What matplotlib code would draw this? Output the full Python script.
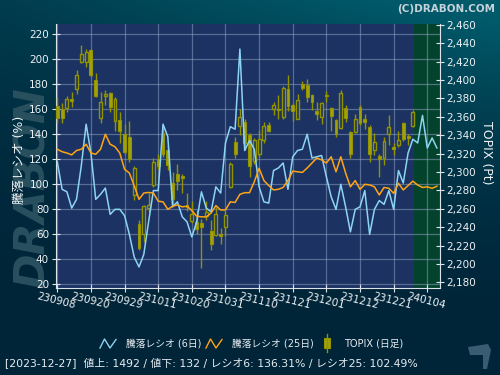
import numpy as np
import matplotlib
matplotlib.use("Agg")
import matplotlib.pyplot as plt
from matplotlib.ticker import FuncFormatter
from matplotlib.patches import Polygon, Rectangle

plt.rcParams['font.family'] = ['DejaVu Sans', 'Noto Sans CJK JP']

# ---------------- data ----------------
tick_labels = ['230908', '230920', '230929', '231011', '231020', '231031',
               '231110', '231121', '231201', '231212', '231221', '240104']
tick_step = 7  # trading days between labelled ticks

topix_open = [2372, 2368, 2370, 2379, 2390, 2419, 2419, 2432, 2400, 2359,
              2383, 2386, 2355, 2356, 2341, 2338, 2275, 2243, 2233, 2261,
              2286, 2314, 2342, 2324, 2288, 2298, 2296, 2264, 2247, 2246,
              2244, 2252, 2236, 2231, 2233, 2240, 2284, 2333, 2350, 2354,
              2340, 2312, 2320, 2335, 2351, 2368, 2368, 2360, 2390, 2373,
              2358, 2396, 2395, 2384, 2366, 2360, 2384, 2370, 2356, 2348,
              2369, 2343, 2343, 2371, 2357, 2349, 2324, 2317, 2315, 2341,
              2327, 2329, 2353, 2339, 2350]
topix_high = [2381, 2375, 2382, 2387, 2411, 2438, 2434, 2434, 2407, 2387,
              2389, 2387, 2381, 2365, 2352, 2355, 2306, 2248, 2264, 2277,
              2315, 2320, 2351, 2329, 2300, 2309, 2298, 2277, 2268, 2259,
              2249, 2268, 2248, 2262, 2239, 2257, 2311, 2338, 2368, 2358,
              2342, 2337, 2346, 2354, 2354, 2376, 2384, 2393, 2405, 2375,
              2385, 2399, 2401, 2385, 2376, 2376, 2388, 2371, 2358, 2389,
              2373, 2345, 2363, 2373, 2363, 2351, 2342, 2320, 2338, 2362,
              2331, 2345, 2354, 2341, 2367]
topix_low = [2353, 2353, 2365, 2371, 2385, 2418, 2414, 2403, 2381, 2353,
             2373, 2365, 2344, 2331, 2320, 2311, 2269, 2215, 2224, 2256,
             2284, 2303, 2316, 2302, 2264, 2280, 2277, 2257, 2244, 2233,
             2195, 2248, 2215, 2230, 2222, 2230, 2282, 2315, 2340, 2324,
             2295, 2309, 2316, 2331, 2343, 2362, 2358, 2358, 2366, 2355,
             2357, 2389, 2376, 2367, 2356, 2352, 2376, 2345, 2338, 2347,
             2354, 2315, 2342, 2351, 2347, 2311, 2318, 2294, 2307, 2329,
             2318, 2327, 2334, 2329, 2349]
topix_close = [2359, 2359, 2379, 2377, 2405, 2428, 2430, 2405, 2383, 2376,
               2385, 2371, 2379, 2344, 2322, 2314, 2304, 2217, 2263, 2264,
               2311, 2306, 2320, 2308, 2271, 2290, 2293, 2262, 2254, 2238,
               2240, 2256, 2222, 2254, 2230, 2253, 2309, 2320, 2360, 2331,
               2306, 2335, 2336, 2350, 2344, 2373, 2367, 2391, 2372, 2366,
               2378, 2391, 2381, 2376, 2363, 2375, 2382, 2361, 2341, 2386,
               2359, 2320, 2358, 2353, 2354, 2320, 2332, 2314, 2334, 2349,
               2325, 2335, 2336, 2337, 2365]

ratio6 = [118, 96, 94, 81, 88, 115, 148, 125, 88, 92,
          97, 76, 80, 80, 75, 60, 42, 34, 44, 70,
          95, 95, 148, 138, 82, 86, 74, 70, 58, 70,
          94, 81, 78, 98, 93, 133, 146, 144, 208, 127,
          135, 128, 98, 86, 85, 111, 113, 117, 96, 122,
          127, 128, 140, 121, 122, 123, 106, 90, 80, 100,
          82, 62, 80, 82, 95, 60, 80, 87, 84, 95,
          80, 111, 101, 125, 136, 133, 155, 129, 137, 129]
ratio25 = [128, 126, 125, 123.5, 127, 128, 132, 125, 124, 128,
           140, 132, 130, 125, 112, 109, 99, 88, 93, 93.5,
           93, 86.5, 86, 80, 82.5, 83.5, 82, 82.5, 79, 74.5,
           74, 74, 77, 83, 79.5, 79.5, 86, 85.5, 92, 93.3,
           93.3, 102, 112.8, 103, 99, 95.5, 96, 97.5, 103, 110.5,
           110, 109.5, 113, 117, 121, 119.5, 117, 122, 110, 122,
           109, 98, 103, 96, 100, 99.5, 98, 91.5, 97.5, 96.8,
           92.8, 100.8, 95.5, 99, 102.5, 99.4, 97.5, 98, 96.8, 98.5]

info_date = '2023-12-27'
info_up = 1492
info_down = 132
info_r6 = '136.31'
info_r25 = '102.49'

# ---------------- figure ----------------
fig = plt.figure(figsize=(5, 3.75), dpi=100)

# background gradient
bg = fig.add_axes([0, 0, 1, 1], zorder=-10)
yy, xx = np.mgrid[0:1:375j, 0:1:500j]
bot = np.array([0, 36, 56]) / 255
top = np.array([0, 90, 106]) / 255
f = np.clip((1 - yy) ** 2.2 * (0.45 + 0.7 * xx), 0, 1)[..., None]
img = bot + (top - bot) * f
bg.imshow(img, aspect='auto', extent=[0, 1, 0, 1], origin='upper')
bg.axis('off')

rect = [56 / 500, 1 - 288 / 375, (439.5 - 56) / 500, (288 - 24) / 375]
fg = '#dce4ea'
n_lines = len(ratio6)
n_c = len(topix_close)
xmin, xmax = -0.27, n_lines - 0.46

# base axes: background, grid, left scale
ax = fig.add_axes(rect)
ax.set_facecolor('#1b3262')
ax.set_xlim(xmin, xmax)
ax.set_ylim(17.2, 228)
ax.axvspan(n_c - 1 + 0.2, xmax, color='#03432e', zorder=0, lw=0)
ax.set_yticks(range(20, 221, 20))
tpos = np.arange(len(tick_labels)) * tick_step
ax.set_xticks(tpos)
ax.set_xticklabels(tick_labels, rotation=-14, ha='center', va='top',
                   rotation_mode='anchor')
ax.grid(True, color='#95a6c8', alpha=0.5, lw=0.9)
ax.set_axisbelow(True)
for s in ['top', 'right']:
    ax.spines[s].set_visible(False)
for s in ['left', 'bottom']:
    ax.spines[s].set_color(fg)
ax.tick_params(axis='both', direction='inout', length=6, color=fg,
               labelcolor='#eef2f5', labelsize=7.5, pad=2)
ax.tick_params(axis='x', pad=3)

# candle axes: right scale
axc = fig.add_axes(rect, sharex=ax)
axc.patch.set_visible(False)
axc.set_ylim(2173.8, 2460.8)
axc.yaxis.tick_right()
axc.set_yticks(range(2180, 2461, 20))
axc.yaxis.set_major_formatter(FuncFormatter(lambda v, p: f'{int(v):,}'))
axc.tick_params(axis='y', direction='inout', length=6, color=fg,
                labelcolor='#eef2f5', labelsize=7.5, pad=2)
axc.tick_params(axis='x', bottom=False, labelbottom=False)
for s in ['top', 'left', 'bottom']:
    axc.spines[s].set_visible(False)
axc.spines['right'].set_color(fg)

o = np.array(topix_open, float)
h = np.array(topix_high, float)
l = np.array(topix_low, float)
c = np.array(topix_close, float)
idx = np.arange(n_c)
up = c >= o
olive = '#939300'
axc.vlines(idx, l, h, color=olive, lw=1.0, zorder=2)
axc.bar(idx[up], (c - o)[up], bottom=o[up], width=0.6,
        facecolor='#1b3262', edgecolor=olive, lw=1.0, zorder=3)
axc.bar(idx[~up], (o - c)[~up], bottom=c[~up], width=0.6,
        facecolor='#a2a20e', edgecolor=olive, lw=0.8, zorder=3)

# ratio lines on top
axl = fig.add_axes(rect, sharex=ax, sharey=ax)
axl.patch.set_visible(False)
axl.axis('off')
xl = np.arange(n_lines)
axl.plot(xl, ratio6, color='#8dd4f2', lw=1.1, zorder=4)
axl.plot(xl, ratio25, color='#ffa514', lw=1.1, zorder=4)

# axis titles
fig.text(19 / 500, 1 - 160 / 375, '騰落レシオ (%)', rotation=90, ha='center',
         va='center', color='#eef2f5', fontsize=9)
fig.text(487 / 500, 1 - 153 / 375, 'TOPIX (Pt)', rotation=-90, ha='center',
         va='center', color='#eef2f5', fontsize=9)

# watermark
fig.text(33 / 500, 1 - 188 / 375, 'DRABON', rotation=90, ha='center',
         va='center', color='#29505f', fontsize=30, fontweight='heavy',
         fontstyle='italic', zorder=-5)

fig.text(495 / 500, 1 - 9 / 375, '(C)DRABON.COM', ha='right', va='center',
         color='#c6d2da', fontsize=7.5, fontweight='bold')

# legend / info overlay (pixel coordinates)
ov = fig.add_axes([0, 0, 1, 1], zorder=5)
ov.set_xlim(0, 500)
ov.set_ylim(375, 0)
ov.axis('off')
ov.patch.set_visible(False)
ov.plot([100, 104.5, 110, 116], [348, 339, 348, 339.5], color='#8dd4f2', lw=1)
ov.plot([206, 210.5, 216, 222], [348, 339, 348, 339.5], color='#ffa514', lw=1)
ov.plot([327, 327], [334, 352], color=olive, lw=1)
ov.add_patch(Rectangle((324, 338), 6, 10, facecolor='#a2a20e', edgecolor=olive, lw=0.8))
tc = '#e6ecf0'
ov.text(126, 344, '騰落レシオ (6日)', va='center', fontsize=7, color=tc)
ov.text(232, 344, '騰落レシオ (25日)', va='center', fontsize=7, color=tc)
ov.text(344, 344, 'TOPIX (日足)', va='center', fontsize=7, color=tc)
ov.text(5, 363, f'[{info_date}]  値上: {info_up} / 値下: {info_down} / '
        f'レシオ6: {info_r6}% / レシオ25: {info_r25}%',
        va='center', fontsize=7.8, color=tc)
ov.add_patch(Polygon([(468, 347), (488, 344), (491, 350), (487, 369),
                      (483, 369), (483, 355), (470, 355)],
                     closed=True, facecolor='#3a5c72', edgecolor='none'))

fig.savefig('out.png', dpi=100)
